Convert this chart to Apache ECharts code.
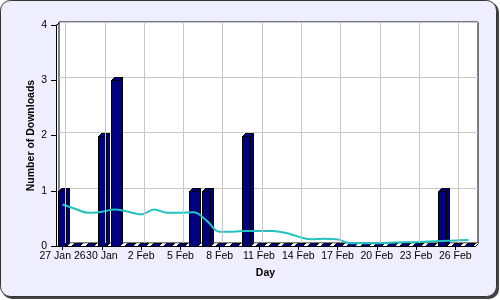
<!DOCTYPE html>
<html><head><meta charset="utf-8">
<script src="https://cdn.jsdelivr.net/npm/echarts@6/dist/echarts.min.js"></script>
<style>html,body{margin:0;padding:0;background:#fff;}#c{width:500px;height:300px;}</style>
</head><body><div id="c"></div>
<script>
const days = ['27 Jan','28 Jan','29 Jan','30 Jan','31 Jan','1 Feb','2 Feb','3 Feb','4 Feb','5 Feb','6 Feb','7 Feb','8 Feb','9 Feb','10 Feb','11 Feb','12 Feb','13 Feb','14 Feb','15 Feb','16 Feb','17 Feb','18 Feb','19 Feb','20 Feb','21 Feb','22 Feb','23 Feb','24 Feb','25 Feb','26 Feb','27 Feb'];
const downloads = [1,0,0,2,3,0,0,0,0,0,1,1,0,0,2,0,0,0,0,0,0,0,0,0,0,0,0,0,0,1,0,0];
const trend = [0.75,0.67,0.60,0.62,0.66,0.62,0.57,0.66,0.60,0.60,0.61,0.46,0.26,0.26,0.27,0.27,0.27,0.24,0.17,0.12,0.13,0.12,0.05,0.05,0.05,0.06,0.07,0.07,0.08,0.09,0.10,0.11];
const tickLabels = ['27 Jan 26','30 Jan','2 Feb','5 Feb','8 Feb','11 Feb','14 Feb','17 Feb','20 Feb','23 Feb','26 Feb'];
const yName = 'Number of Downloads';
const xName = 'Day';

const FONT = 'Liberation Sans';
const chart = echarts.init(document.getElementById('c'), null, {renderer:'canvas'});

function renderBar(params, api) {
  const idx = api.value(0), v = api.value(1);
  const top = api.coord([idx, v]);
  const base = api.coord([idx, 0]);
  const bw = api.size([1, 0])[0] * 0.64;
  const d = 3;
  const x0 = Math.round(top[0] - bw / 2) + 0.5, x1 = x0 + Math.round(bw);
  const yt = Math.round(top[1]) + 0.5, yb = Math.round(base[1]) + 0.5;
  const style = {fill: '#000080', stroke: '#000', lineWidth: 1};
  return {type: 'group', children: [
    {type: 'polygon', shape: {points: [[x1, yb], [x1, yt], [x1 + d, yt - d], [x1 + d, yb - d]]}, style: style},
    {type: 'polygon', shape: {points: [[x0, yt], [x0 + d, yt - d], [x1 + d, yt - d], [x1, yt]]}, style: style},
    {type: 'rect', shape: {x: x0, y: yt, width: x1 - x0, height: yb - yt}, style: style}
  ]};
}

const gridMarks = tickLabels.map((t, i) => ({xAxis: days[i * 3]}));

chart.setOption({
  animation: false,
  backgroundColor: 'transparent',
  graphic: [
    {type: 'rect', z: -10, shape: {x: 2, y: 2, width: 497, height: 297, r: 10}, style: {fill: '#444'}},
    {type: 'rect', z: -9, shape: {x: 0.5, y: 0.5, width: 496, height: 296, r: 10}, style: {fill: '#eeeeff', stroke: '#333', lineWidth: 1}},
    {type: 'line', z: 5, shape: {x1: 56.5, y1: 25.5, x2: 59.5, y2: 22.5}, style: {stroke: '#000', lineWidth: 1}},
    {type: 'line', z: 5, shape: {x1: 475.5, y1: 246.5, x2: 478.5, y2: 243.5}, style: {stroke: '#000', lineWidth: 1}}
  ],
  grid: [
    {left: 56, right: 25, top: 25, bottom: 54, show: true, backgroundColor: '#fff', borderWidth: 0, z: -5},
    {left: 59, right: 22, top: 22, bottom: 57, show: true, backgroundColor: '#fff', borderColor: '#000', borderWidth: 1, z: -4}
  ],
  xAxis: [
    {type: 'category', gridIndex: 0, data: days, boundaryGap: true,
     axisLine: {show: true, lineStyle: {color: '#000', width: 1}},
     axisTick: {show: true, interval: 2, alignWithLabel: true, length: 4, lineStyle: {color: '#000'}},
     axisLabel: {interval: 2, margin: 5, color: '#000', fontFamily: FONT, fontSize: 10.5,
       formatter: (v, i) => tickLabels[Math.round(i / 3)]},
     splitLine: {show: false},
     name: xName, nameLocation: 'middle', nameGap: 22, nameMoveOverlap: false,
     nameTextStyle: {fontFamily: FONT, fontWeight: 'bold', fontSize: 10.5, color: '#000'}},
    {type: 'category', gridIndex: 1, data: days, boundaryGap: true,
     axisLine: {show: false}, axisTick: {show: false}, axisLabel: {show: false}, splitLine: {show: false}}
  ],
  yAxis: [
    {type: 'value', gridIndex: 0, min: 0, max: 4, interval: 1,
     axisLine: {show: true, lineStyle: {color: '#000', width: 1}},
     axisTick: {show: true, length: 5, lineStyle: {color: '#000'}},
     axisLabel: {margin: 9, color: '#000', fontFamily: FONT, fontSize: 10.5},
     splitLine: {show: false},
     name: yName, nameLocation: 'middle', nameGap: 19, nameMoveOverlap: false,
     nameTextStyle: {fontFamily: FONT, fontWeight: 'bold', fontSize: 10.5, color: '#000'}},
    {type: 'value', gridIndex: 1, min: 0, max: 4, interval: 1,
     axisLine: {show: false}, axisTick: {show: false}, axisLabel: {show: false},
     splitLine: {show: true, lineStyle: {color: '#c8c8c8', width: 1}}}
  ],
  series: [
    {type: 'line', xAxisIndex: 1, yAxisIndex: 1, data: days.map(() => null), silent: true, z: 1,
     markLine: {silent: true, symbol: 'none', label: {show: false}, animation: false,
       lineStyle: {color: '#c8c8c8', type: 'solid', width: 1}, data: gridMarks}},
    {type: 'custom', xAxisIndex: 0, yAxisIndex: 0, renderItem: renderBar, z: 3,
     data: downloads.map((v, i) => [i, v]), encode: {x: 0, y: 1}},
    {type: 'line', xAxisIndex: 0, yAxisIndex: 0, data: trend, smooth: 0.4, showSymbol: false, z: 4,
     lineStyle: {color: '#22c2c2', width: 2}}
  ]
});
</script></body></html>
